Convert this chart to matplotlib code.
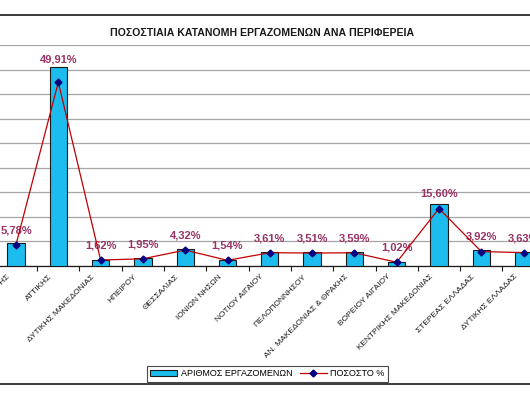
import numpy as np
import matplotlib
matplotlib.use("Agg")
import matplotlib.pyplot as plt
import matplotlib.transforms as mtransforms
from matplotlib.lines import Line2D

# data
regions = ["ΚΡΗΤΗΣ", "ΑΤΤΙΚΗΣ", "ΔΥΤΙΚΗΣ ΜΑΚΕΔΟΝΙΑΣ", "ΗΠΕΙΡΟΥ", "ΘΕΣΣΑΛΙΑΣ",
           "ΙΟΝΙΩΝ ΝΗΣΩΝ", "ΝΟΤΙΟΥ ΑΙΓΑΙΟΥ", "ΠΕΛΟΠΟΝΝΗΣΟΥ",
           "ΑΝ. ΜΑΚΕΔΟΝΙΑΣ & ΘΡΑΚΗΣ", "ΒΟΡΕΙΟΥ ΑΙΓΑΙΟΥ", "ΚΕΝΤΡΙΚΗΣ ΜΑΚΕΔΟΝΙΑΣ",
           "ΣΤΕΡΕΑΣ ΕΛΛΑΔΑΣ", "ΔΥΤΙΚΗΣ ΕΛΛΑΔΑΣ"]
employees = [46800, 404300, 13100, 15800, 35000, 12500, 29200, 28400,
             29100, 8300, 126400, 31800, 29400]
percent = [5.78, 49.91, 1.62, 1.95, 4.32, 1.54, 3.61, 3.51, 3.59, 1.02,
           15.60, 3.92, 3.63]
labels = ["5,78%", "49,91%", "1,62%", "1,95%", "4,32%", "1,54%", "3,61%",
          "3,51%", "3,59%", "1,02%", "15,60%", "3,92%", "3,63%"]

title = "ΠΟΣΟΣΤΙΑΙΑ ΚΑΤΑΝΟΜΗ ΕΡΓΑΖΟΜΕΝΩΝ ΑΝΑ ΠΕΡΙΦΕΡΕΙΑ"

plt.rcParams['font.family'] = ['Liberation Sans', 'DejaVu Sans']

W, H = 530, 395
fig = plt.figure(figsize=(W / 100, H / 100), dpi=100)

# plot area runs past both edges of the picture (cropped excel chart)
left_px, right_px = -5.15, 544.75
ax = fig.add_axes([left_px / W, (H - 266) / H, (right_px - left_px) / W, 221 / H])
ax2 = ax.twinx()

x = np.arange(len(regions))
bars = ax.bar(x, employees, width=0.41, color='#1CBCEE', edgecolor='#1a1a1a',
              linewidth=0.8, zorder=3, label='ΑΡΙΘΜΟΣ ΕΡΓΑΖΟΜΕΝΩΝ')
ax.set_ylim(0, 450000)
ax.set_xlim(-0.5, len(regions) - 0.5)
ax.set_yticks(np.arange(0, 450001, 50000))
ax.yaxis.grid(True, color='#A6A6A6', linewidth=0.9)
ax.set_axisbelow(True)
ax.tick_params(axis='y', length=0, labelleft=False)

ln, = ax2.plot(x, percent, color='#C00000', linewidth=0.9, marker='D',
               markersize=3.5, markerfacecolor='#000080', markeredgecolor='#000080',
               zorder=4, label='ΠΟΣΟΣΤΟ %')
ax2.set_ylim(0, 60)
ax2.tick_params(axis='y', length=0, labelright=False)

for i, (v, t) in enumerate(zip(percent, labels)):
    dy = 16 if v > 40 else 10.5
    ax2.annotate(t, (x[i], v), xytext=(0, dy), textcoords='offset points',
                 ha='center', va='center', fontsize=8, fontweight='bold',
                 color='#993366')

for a in (ax, ax2):
    for s in ('top', 'left', 'right'):
        a.spines[s].set_visible(False)
ax2.spines['bottom'].set_visible(False)
ax.spines['bottom'].set_color('#1a1a1a')
ax.spines['bottom'].set_linewidth(0.9)

# category labels at the centres, tick marks between categories
ax.set_xticks(x)
ax.set_xticks(np.arange(-0.5, len(regions), 1.0), minor=True)
ax.tick_params(axis='x', which='major', length=0, pad=7)
ax.tick_params(axis='x', which='minor', length=3.5, width=0.8, color='#1a1a1a')
ax.set_xticklabels(regions, rotation=45, ha='right', va='center',
                   rotation_mode='anchor', fontsize=6, color='#1a1a1a')
shift = mtransforms.ScaledTranslation(-7 / 100, 0, fig.dpi_scale_trans)
for lab in ax.get_xticklabels():
    lab.set_transform(lab.get_transform() + shift)

fig.text(262 / W, 1 - 32.7 / H, title, ha='center', va='center',
         fontsize=7.6, fontweight='bold', color='#1a1a1a')

# chart area borders
fig.add_artist(Line2D([0, 1], [1 - 15 / H, 1 - 15 / H], color='#1a1a1a', linewidth=1.2))
fig.add_artist(Line2D([0, 1], [1 - 384 / H, 1 - 384 / H], color='#1a1a1a', linewidth=1.2))

leg = fig.legend([bars, ln], ['ΑΡΙΘΜΟΣ ΕΡΓΑΖΟΜΕΝΩΝ', 'ΠΟΣΟΣΤΟ %'], loc='center',
                 bbox_to_anchor=(267.5 / W, 1 - 374 / H), ncol=2, fontsize=6.5,
                 frameon=True, fancybox=False, handlelength=3, handleheight=0.6,
                 columnspacing=0.8, handletextpad=0.4, borderpad=0.35)
leg.get_frame().set_edgecolor('#1a1a1a')
leg.get_frame().set_linewidth(0.8)

fig.savefig('out.png', dpi=100)
